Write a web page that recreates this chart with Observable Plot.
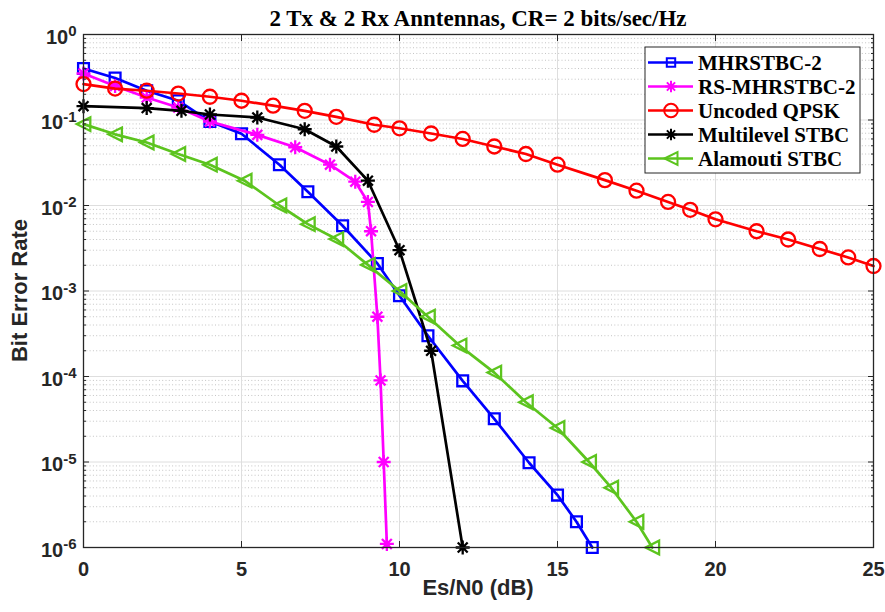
<!DOCTYPE html>
<html><head><meta charset="utf-8">
<script src="https://cdn.jsdelivr.net/npm/d3@7"></script>
<script src="https://cdn.jsdelivr.net/npm/@observablehq/plot@0.6"></script>
<style>
body{margin:0;background:#fff}
#chart{position:relative;width:885px;height:612px}
</style>
</head><body><div id="chart"></div>
<script>
// ---- data ----
const seriesNames = ["MHRSTBC-2","RS-MHRSTBC-2","Uncoded QPSK","Multilevel STBC","Alamouti STBC"];
const seriesColors = ["#0000ff","#ff00ff","#ff0000","#000000","#5cc41e"];

const mhrX = [0,1,2,3,4,5,6.2,7.1,8.2,9.3,10,10.9,12,13,14.1,15,15.6,16.1];
const mhrY = [0.40,0.31,0.22,0.168,0.096,0.069,0.030,0.0145,0.0058,0.0021,0.00088,0.0003,0.000089,0.000032,0.0000098,0.0000041,0.000002,0.000001];

const rsX = [0,1,2,3,4,5.5,6.7,7.8,8.6,9.0,9.1,9.3,9.4,9.5,9.6];
const rsY = [0.35,0.25,0.183,0.14,0.096,0.067,0.048,0.030,0.019,0.011,0.005,0.0005,0.00009,0.00001,0.0000011];

const qpskX = [0,1,2,3,4,5,6,7,8,9.2,10,11,12,13,14,15,16.5,17.5,18.5,19.2,20,21.3,22.3,23.3,24.2,25];
const qpskY = [0.263,0.233,0.22,0.204,0.187,0.168,0.147,0.128,0.109,0.088,0.080,0.0695,0.060,0.049,0.040,0.030,0.0198,0.0149,0.011,0.0089,0.0069,0.005,0.004,0.0031,0.00247,0.00196];

const mlX = [0,2,3.1,4,5.5,7,8,9,10,11,12];
const mlY = [0.145,0.138,0.128,0.116,0.107,0.078,0.049,0.0195,0.003,0.0002,0.000001];

const alaX = [0,1,2,3,4,5.1,6.2,7.1,8,9,10,10.9,11.9,13,14,15,16,16.7,17.5,18];
const alaY = [0.0895,0.068,0.0546,0.040,0.030,0.0195,0.010,0.00605,0.00405,0.00202,0.001,0.0005,0.00023,0.000111,0.00005,0.000025,0.00001,0.000005,0.000002,0.000001];

const xTicks = [0,5,10,15,20,25];
const yDecades = [1e-6,1e-5,1e-4,1e-3,1e-2,1e-1,1];
const yMinor = [];
for (let e = -6; e < 0; e++) for (let m = 2; m <= 9; m++) yMinor.push(m * Math.pow(10, e));

const titleText = "2 Tx & 2 Rx Anntennas, CR= 2 bits/sec/Hz";
const xLabel = "Es/N0 (dB)";
const yLabel = "Bit Error Rate";

// ---- custom MATLAB-like marker symbols (size = pi r^2, s = r) ----
const symSquare = {draw(c, size){ const s = Math.sqrt(size/Math.PI); c.moveTo(-s,-s); c.lineTo(s,-s); c.lineTo(s,s); c.lineTo(-s,s); c.closePath(); }};
const symStar = {draw(c, size){ const s = Math.sqrt(size/Math.PI), d = s*0.7071;
  c.moveTo(-s,0); c.lineTo(s,0); c.moveTo(0,-s); c.lineTo(0,s);
  c.moveTo(-d,-d); c.lineTo(d,d); c.moveTo(-d,d); c.lineTo(d,-d); }};
const symCircle = {draw(c, size){ const s = Math.sqrt(size/Math.PI); c.moveTo(s,0); c.arc(0,0,s,0,2*Math.PI); c.closePath(); }};
const symTriLeft = {draw(c, size){ const s = Math.sqrt(size/Math.PI); c.moveTo(-s,0); c.lineTo(s,-s); c.lineTo(s,s); c.closePath(); }};

const series = [
  {name: seriesNames[0], color: seriesColors[0], symbol: symSquare, r: 5.4, lr: 4.2, x: mhrX, y: mhrY},
  {name: seriesNames[1], color: seriesColors[1], symbol: symStar, r: 7, lr: 5.8, x: rsX, y: rsY},
  {name: seriesNames[2], color: seriesColors[2], symbol: symCircle, r: 7, lr: 6.8, x: qpskX, y: qpskY},
  {name: seriesNames[3], color: seriesColors[3], symbol: symStar, r: 7, lr: 5.8, x: mlX, y: mlY},
  {name: seriesNames[4], color: seriesColors[4], symbol: symTriLeft, r: 6.8, lr: 6.5, x: alaX, y: alaY}
];

const seriesMarks = [];
for (const s of series) {
  const rows = s.x.map((x, i) => ({x, y: s.y[i]}));
  seriesMarks.push(Plot.line(rows, {x: "x", y: "y", stroke: s.color, strokeWidth: 2.7}));
  seriesMarks.push(Plot.dot(rows, {x: "x", y: "y", symbol: s.symbol, r: s.r, stroke: s.color, strokeWidth: 2.3, fill: "none"}));
}

const axisColor = "#262626";
const chart = Plot.plot({
  width: 885, height: 612,
  marginLeft: 83, marginRight: 12, marginTop: 34, marginBottom: 65,
  style: {fontFamily: "'Liberation Sans', Arial, sans-serif", fontSize: "20px", fontWeight: "bold", color: axisColor, background: "#fff"},
  x: {domain: [0, 25]},
  y: {type: "log", domain: [1e-6, 1]},
  marks: [
    Plot.ruleY(yMinor, {stroke: "#c4c4c4", strokeDasharray: "1,2.3", strokeWidth: 1}),
    Plot.ruleY(yDecades.slice(1, -1), {stroke: "#dedede", strokeWidth: 1}),
    Plot.ruleX(xTicks.slice(1, -1), {stroke: "#dedede", strokeWidth: 1}),
    ...seriesMarks,
    Plot.frame({stroke: axisColor, strokeWidth: 1.3}),
    Plot.axisX({ticks: xTicks, tickSize: 0, tickPadding: 14, fontSize: 20, tickFormat: d => String(d), label: null}),
    Plot.axisX({ticks: xTicks, tickSize: -6, tickFormat: () => "", label: null, stroke: axisColor}),
    Plot.axisX({anchor: "top", ticks: xTicks, tickSize: -6, tickFormat: () => "", label: null, stroke: axisColor}),
    Plot.axisY({ticks: yDecades, tickSize: 0, tickPadding: 7, dy: 3, fontSize: 20, tickFormat: d => String(Math.round(Math.log10(d))), label: null}),
    Plot.axisY({ticks: yDecades, tickSize: -6, tickFormat: () => "", label: null, stroke: axisColor}),
    Plot.axisY({anchor: "right", ticks: yDecades, tickSize: -6, tickFormat: () => "", label: null, stroke: axisColor}),
    Plot.axisY({ticks: yMinor, tickSize: -3, tickFormat: () => "", label: null, stroke: axisColor}),
    Plot.axisY({anchor: "right", ticks: yMinor, tickSize: -3, tickFormat: () => "", label: null, stroke: axisColor})
  ]
});
document.getElementById("chart").appendChild(chart);

const svg = d3.select(chart);
// superscript tick labels 10^n
svg.selectAll('g[aria-label="y-axis tick label"] text').each(function () {
  const exp = this.textContent;
  if (!exp) return;
  const t = d3.select(this);
  t.text(null);
  t.append("tspan").text("10");
  t.append("tspan").attr("dy", -7.5).attr("font-size", "15px").text(exp);
});

// title
svg.append("text").attr("x", 478).attr("y", 25.5).attr("text-anchor", "middle")
  .attr("font-family", "'Liberation Serif', 'Times New Roman', serif").attr("font-size", "23px")
  .attr("font-weight", "bold").attr("fill", "#000").text(titleText);
// axis labels
svg.append("text").attr("x", 478).attr("y", 595).attr("text-anchor", "middle")
  .attr("font-size", "22px").attr("font-weight", "bold").attr("fill", axisColor).text(xLabel);
svg.append("text").attr("transform", "translate(27,290.5) rotate(-90)").attr("text-anchor", "middle")
  .attr("font-size", "22px").attr("font-weight", "bold").attr("fill", axisColor).text(yLabel);

// legend
const lg = svg.append("g").attr("transform", "translate(645,47)");
lg.append("rect").attr("width", 215).attr("height", 126).attr("fill", "#fff").attr("stroke", axisColor).attr("stroke-width", 1);
series.forEach((s, i) => {
  const yy = 15.5 + i * 24;
  lg.append("line").attr("x1", 3).attr("x2", 48).attr("y1", yy).attr("y2", yy).attr("stroke", s.color).attr("stroke-width", 2.5);
  lg.append("path").attr("transform", `translate(26,${yy})`)
    .attr("d", d3.symbol().type(s.symbol).size(Math.PI * s.lr * s.lr)())
    .attr("fill", "none").attr("stroke", s.color).attr("stroke-width", 2);
  lg.append("text").attr("x", 53).attr("y", yy + 7).attr("text-anchor", "start")
    .attr("font-family", "'Liberation Serif', 'Times New Roman', serif").attr("font-size", "21px")
    .attr("font-weight", "bold").attr("fill", "#000").text(s.name);
});
</script>
</body></html>
